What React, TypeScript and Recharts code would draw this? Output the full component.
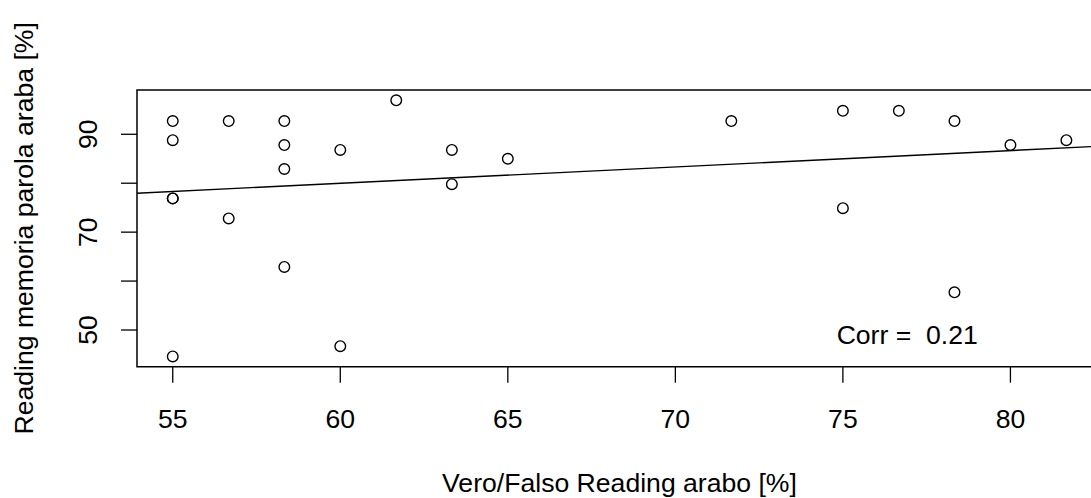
import React from 'react';
import {
  ScatterChart,
  Scatter,
  XAxis,
  YAxis,
  ReferenceArea,
  ReferenceLine,
  ReferenceDot,
} from 'recharts';

// Vero/Falso Reading arabo [%]
const xValues = [
  55, 55, 55, 55, 55,
  56.67, 56.67,
  58.33, 58.33, 58.33, 58.33,
  60, 60,
  61.67,
  63.33, 63.33,
  65,
  71.67,
  75, 75,
  76.67,
  78.33, 78.33,
  80,
  81.67,
];
// Reading memoria parola araba [%]
const yValues = [
  92.7, 88.8, 76.9, 76.9, 44.6,
  92.7, 72.8,
  92.7, 87.8, 82.9, 62.9,
  86.8, 46.7,
  96.95,
  86.8, 79.8,
  85.0,
  92.7,
  94.8, 74.9,
  94.8,
  92.7, 57.7,
  87.8,
  88.8,
];

const fitX = [53.933, 82.733];
const fitY = [77.96, 87.58];

const xTicks = [55, 60, 65, 70, 75, 80];
const yTicks = [50, 60, 70, 80, 90];
const yTickLabels = [50, 70, 90];

const xDomain = [53.933, 82.733];
const yDomain = [42.5, 99.05];

const corrLabel = 'Corr =  0.21';
const corrPos = { x: 76.92, y: 49.0 };

const xTitle = 'Vero/Falso Reading arabo [%]';
const yTitle = 'Reading memoria parola araba [%]';

const FONT = '"Liberation Sans", Arial, Helvetica, sans-serif';
const FS = 26.6;

const points = xValues.map((x, i) => ({ x, y: yValues[i] }));

const OpenCircle = (props: any) => {
  const { cx, cy } = props;
  if (cx == null || cy == null) return null;
  return <circle cx={cx} cy={cy} r={5.3} fill="none" stroke="#000" strokeWidth={1.4} />;
};

const YTick = (props: any) => {
  const { x, y, payload } = props;
  if (!yTickLabels.includes(payload.value)) return <g />;
  return (
    <text
      transform={`translate(${x}, ${y}) rotate(-90)`}
      x={0}
      y={0}
      textAnchor="middle"
      fontFamily={FONT}
      fontSize={FS}
      fill="#000"
    >
      {payload.value}
    </text>
  );
};

const XTick = (props: any) => {
  const { x, y, payload } = props;
  return (
    <text x={x} y={y} textAnchor="middle" fontFamily={FONT} fontSize={FS} fill="#000">
      {payload.value}
    </text>
  );
};

const CorrText = (props: any) => {
  const { cx, cy } = props;
  return (
    <text
      x={cx}
      y={cy}
      dy="0.36em"
      textAnchor="middle"
      fontFamily={FONT}
      fontSize={FS}
      fill="#000"
      style={{ whiteSpace: 'pre' }}
    >
      {corrLabel}
    </text>
  );
};

export default function App() {
  return (
    <div
      style={{
        position: 'absolute',
        left: 0,
        top: 0,
        width: 1091,
        height: 498,
        overflow: 'hidden',
        background: '#fff',
      }}
    >
      <ScatterChart
        width={1120}
        height={498}
        margin={{ top: 90, right: 18, bottom: 71.3, left: 77 }}
      >
        <XAxis
          type="number"
          dataKey="x"
          domain={xDomain}
          ticks={xTicks}
          allowDataOverflow
          axisLine={false}
          tickLine={{ stroke: '#000', strokeWidth: 1.3 }}
          tickSize={16}
          tickMargin={44.8}
          height={60}
          tick={<XTick />}
          label={{
            content: (p: any) => {
              const vb = p.viewBox || {};
              return (
                <text
                  x={vb.x + vb.width / 2}
                  y={vb.y + 125}
                  textAnchor="middle"
                  fontFamily={FONT}
                  fontSize={FS}
                  fill="#000"
                >
                  {xTitle}
                </text>
              );
            },
          }}
        />
        <YAxis
          type="number"
          dataKey="y"
          domain={yDomain}
          ticks={yTicks}
          allowDataOverflow
          axisLine={false}
          tickLine={{ stroke: '#000', strokeWidth: 1.3 }}
          tickSize={16}
          tickMargin={24}
          width={60}
          tick={<YTick />}
          label={{
            content: () => {
              const cy = 90 + (366.7 - 90) / 2;
              return (
                <text
                  transform={`translate(${33}, ${cy}) rotate(-90)`}
                  x={0}
                  y={0}
                  textAnchor="middle"
                  fontFamily={FONT}
                  fontSize={FS}
                  fill="#000"
                >
                  {yTitle}
                </text>
              );
            },
          }}
        />
        <ReferenceArea
          x1={xDomain[0]}
          x2={xDomain[1]}
          y1={yDomain[0]}
          y2={yDomain[1]}
          fill="none"
          fillOpacity={0}
          stroke="#000"
          strokeWidth={1.5}
          ifOverflow="visible"
        />
        <ReferenceLine
          segment={[
            { x: fitX[0], y: fitY[0] },
            { x: fitX[1], y: fitY[1] },
          ]}
          stroke="#000"
          strokeWidth={1.4}
          ifOverflow="visible"
        />
        <Scatter data={points} shape={<OpenCircle />} isAnimationActive={false} />
        <ReferenceDot
          x={corrPos.x}
          y={corrPos.y}
          r={0}
          shape={<CorrText />}
          ifOverflow="visible"
        />
      </ScatterChart>
    </div>
  );
}
